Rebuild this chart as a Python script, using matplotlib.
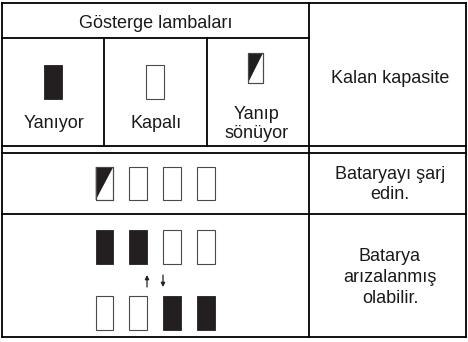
import matplotlib
matplotlib.use('Agg')
import matplotlib.pyplot as plt
from matplotlib.patches import Rectangle, Polygon

plt.rcParams['font.family'] = ['Liberation Sans', 'DejaVu Sans']

##### Table content #####
header = 'Gösterge lambaları'
capacity_label = 'Kalan kapasite'
legend_states = ['on', 'off', 'blink']
legend_labels = ['Yanıyor', 'Kapalı', 'Yanıp\nsönüyor']
charge_lamps = ['blink', 'off', 'off', 'off']
charge_text = 'Bataryayı şarj\nedin.'
fault_lamps_top = ['on', 'on', 'off', 'off']
fault_lamps_bottom = ['off', 'off', 'on', 'on']
fault_text = 'Batarya\narızalanmış\nolabilir.'
########################

W, H = 468, 342
ink = '#231f20'
txt = '#1a1a1a'
fs = 13

fig = plt.figure(figsize=(W / 100, H / 100), dpi=100)
ax = fig.add_axes([0, 0, 1, 1])
ax.set_xlim(0, W)
ax.set_ylim(H, 0)
ax.axis('off')

#Grid geometry (pixels)
x0, x1 = 2, 466
y0, y1 = 3, 337
cols = [x0, 104, 207, 309, x1]
y_head, y_dbl1, y_dbl2, y_sep = 38, 146, 153, 214
lw = 1.3


def hline(y, xa, xb):
    ax.plot([xa, xb], [y, y], color='black', lw=lw, solid_capstyle='projecting')


def vline(x, ya, yb):
    ax.plot([x, x], [ya, yb], color='black', lw=lw, solid_capstyle='projecting')


def lamp(cx, top, state, w=17.5, h=34):
    left = cx - w / 2
    if state == 'on':
        ax.add_patch(Rectangle((left, top), w, h, facecolor=ink, edgecolor=ink, lw=0.6))
    else:
        ax.add_patch(Rectangle((left, top), w, h, facecolor='white', edgecolor='#4a4a4a', lw=0.8))
        if state == 'blink':
            ax.add_patch(Polygon([(left, top), (left + w, top), (left, top + h)],
                                 closed=True, facecolor=ink, edgecolor='none'))
            ax.add_patch(Rectangle((left, top), w, h, facecolor='none', edgecolor='#4a4a4a', lw=0.8))


def lines(cx, base, text, step):
    for i, t in enumerate(text.split('\n')):
        ax.text(cx, base + i * step, t, ha='center', va='baseline', fontsize=fs, color=txt)


#Borders
vline(x0, y0, y1)
vline(x1, y0, y1)
hline(y0, x0, x1)
hline(y1, x0, x1)
vline(cols[3], y0, y1)
hline(y_head, x0, cols[3])
vline(cols[1], y_head, y_dbl1)
vline(cols[2], y_head, y_dbl1)
hline(y_dbl1, x0, x1)
hline(y_dbl2, x0, x1)
hline(y_sep, x0, x1)

#Header cells
ax.text(155.5, 28, header, ha='center', va='baseline', fontsize=fs, color=txt)
ax.text(390, 83, capacity_label, ha='center', va='baseline', fontsize=fs, color=txt)

#Legend row
legend_cx = [53, 155, 255.5]
for cx, st, lab in zip(legend_cx, legend_states, legend_labels):
    if st == 'blink':
        lamp(cx, 53, st, w=15, h=30)
        lines(257, 119, lab, 19.5)
    else:
        lamp(cx, 65, st, w=18, h=34)
        lines(cx + 1, 127.5, lab, 19.5)

#Lamp rows
lamp_cx = [104.5, 138, 172, 206]
for cx, st in zip(lamp_cx, charge_lamps):
    lamp(cx, 167, st, h=33)
lines(390, 179, charge_text, 20)

for cx, st in zip(lamp_cx, fault_lamps_top):
    lamp(cx, 230, st)
for cx, st in zip(lamp_cx, fault_lamps_bottom):
    lamp(cx, 296, st)
lines(390, 261, fault_text, 21)

#Arrows between the two fault patterns
ax_up = lamp_cx[1] + 9
ax_dn = lamp_cx[2] - 9
ax.annotate('', xy=(ax_up, 275), xytext=(ax_up, 287),
            arrowprops=dict(arrowstyle='-|>', color=ink, lw=0.9, mutation_scale=6,
                            shrinkA=0, shrinkB=0))
ax.annotate('', xy=(ax_dn, 287), xytext=(ax_dn, 275),
            arrowprops=dict(arrowstyle='-|>', color=ink, lw=0.9, mutation_scale=6,
                            shrinkA=0, shrinkB=0))

fig.savefig('out.png', dpi=100)
